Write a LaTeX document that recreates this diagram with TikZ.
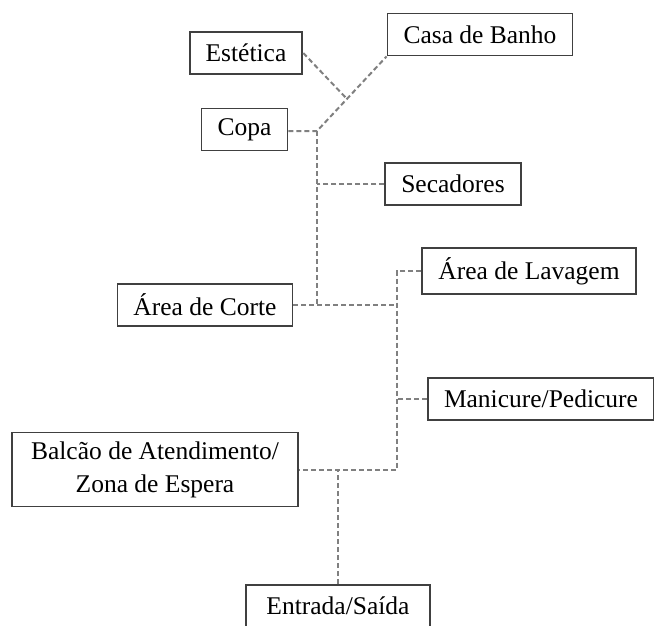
\documentclass[tikz,border=0pt]{standalone}
\usepackage{fontspec}
\setmainfont{Liberation Serif}
\usetikzlibrary{calc}
\tikzset{
  room/.style={draw=black!75, line width=1.8pt, fill=white, inner xsep=16pt, inner ysep=9pt, minimum height=42pt, align=center},
  link/.style={draw=black!50, line width=2pt, dash pattern=on 5pt off 3pt},
}
\begin{document}
\begin{tikzpicture}[x=1pt,y=-1pt,font=\fontsize{25.5}{33}\selectfont]
\useasboundingbox (0,0) rectangle (654,626);
% salas
\node[room] (estetica) at (246,53) {Estética};
\node[room] (banho) at (480,34.5) {Casa de Banho};
\node[room] (copa) at (244.5,129.5) {Copa};
\node[room] (secadores) at (453,184) {Secadores};
\node[room] (lavagem) at (529,271) {Área de Lavagem};
\node[room] (corte) at (205,305) {Área de Corte};
\node[room] (manicure) at (541,399) {Manicure/Pedicure};
\node[room,minimum width=286pt] (balcao) at (155,469.5) {Balcão de Atendimento/\\Zona de Espera};
\node[room,minimum width=184pt] (entrada) at (338,606) {Entrada/Saída};
% pontos de ligacao
\coordinate (jcopa) at (317,131);
\coordinate (jlado) at (397,305);
% ligacoes
\draw[link] (copa.east |- jcopa) -- (jcopa) -- (banho.south west);
\draw[link] (estetica.east) -- ($(jcopa)!0.43!(banho.south west)$);
\draw[link] (jcopa) -- (jcopa |- corte.east);
\draw[link] (secadores.west) -- (jcopa |- secadores.west);
\draw[link] (corte.east) -- (jlado |- corte.east);
\draw[link] (lavagem.west) -- (jlado |- lavagem.west) -- (jlado |- balcao.east) -- (balcao.east);
\draw[link] (manicure.west) -- (jlado |- manicure.west);
\draw[link] (entrada.north) -- (entrada.north |- balcao.east);
\end{tikzpicture}
\end{document}
